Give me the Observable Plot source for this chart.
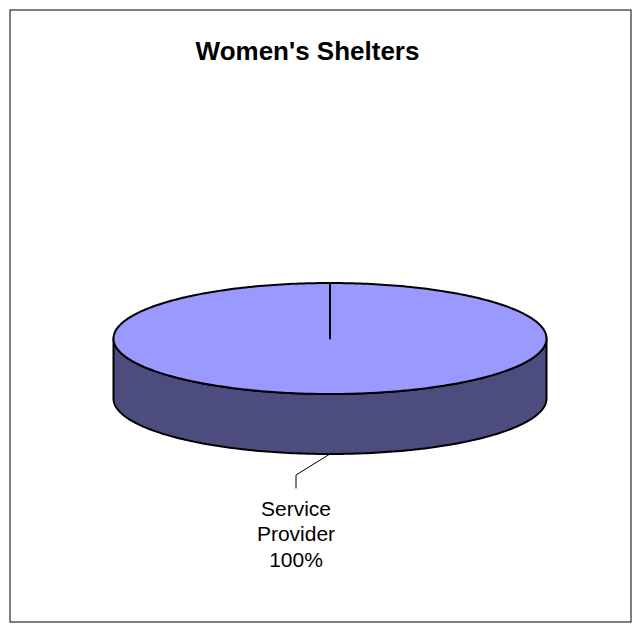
<!DOCTYPE html>
<html>
<head>
<meta charset="utf-8">
<script src="https://cdn.jsdelivr.net/npm/d3@7"></script>
<script src="https://cdn.jsdelivr.net/npm/@observablehq/plot@0.6"></script>
<style>
  html, body { margin: 0; padding: 0; background: white; overflow: hidden; }
</style>
</head>
<body>
<div id="chart"></div>
<script>
// ---- data ----
const title = "Women's Shelters";
const categories = ["Service Provider"];
const values = [100];
const topColors = ["#9999ff"];
const sideColors = ["#4c4c7f"];

// ---- layout ----
const W = 639, H = 629;
const cx = 329.5, cy = 338, rx = 216.5, ry = 55.5, depth = 60;
const font = "Liberation Sans, Arial, Helvetica, sans-serif";

const total = d3.sum(values);
const slices = d3.pie().sort(null).startAngle(0).endAngle(2 * Math.PI)(values);
const pt = (a, dz = 0) => ({x: cx + rx * Math.sin(a), y: cy - ry * Math.cos(a) + dz});
const arc = (a0, a1, dz = 0) => {
  const n = Math.max(2, Math.ceil(Math.abs(a1 - a0) / (Math.PI / 180)));
  return d3.range(n + 1).map(i => pt(a0 + (a1 - a0) * i / n, dz));
};

const sideRows = [];
const topRows = [];
const leaderRows = [];
const labelRows = [];
slices.forEach((s, i) => {
  const lo = Math.max(s.startAngle, Math.PI / 2);
  const hi = Math.min(s.endAngle, 3 * Math.PI / 2);
  if (lo < hi) {
    const poly = [...arc(lo, hi, 0), ...arc(hi, lo, depth)];
    poly.push(poly[0]);
    poly.forEach(p => sideRows.push({id: i, ...p, color: sideColors[i]}));
  }
  const c = {x: cx, y: cy};
  [c, ...arc(s.startAngle, s.endAngle, 0), c].forEach(p => topRows.push({id: i, ...p, color: topColors[i]}));
  const mid = (s.startAngle + s.endAngle) / 2;
  const a = pt(mid, depth);
  const b = {x: a.x - 34, y: a.y + 21};
  const e = {x: b.x, y: b.y + 13};
  [a, b, e].forEach(p => leaderRows.push({id: i, ...p}));
  labelRows.push({
    x: e.x, y: e.y + 45,
    text: categories[i].replace(" ", "\n") + "\n" + Math.round(values[i] / total * 100) + "%"
  });
});

const chart = Plot.plot({
  width: W, height: H,
  margin: 0,
  x: {type: "identity", axis: null},
  y: {type: "identity", axis: null},
  style: {background: "white"},
  marks: [
    Plot.frame({stroke: "black", strokeWidth: 1, insetLeft: 9.5, insetRight: 8.5, insetTop: 9.5, insetBottom: 7.5}),
    Plot.line(sideRows, {x: "x", y: "y", z: "id", fill: "color", stroke: "black", strokeWidth: 2, strokeLinejoin: "round"}),
    Plot.line(topRows, {x: "x", y: "y", z: "id", fill: "color", stroke: "black", strokeWidth: 2, strokeLinejoin: "round"}),
    Plot.line(leaderRows, {x: "x", y: "y", z: "id", stroke: "black", strokeWidth: 1}),
    Plot.text(labelRows, {x: "x", y: "y", text: "text", fontSize: 21, lineHeight: 1.22, lineAnchor: "middle", fontFamily: font, fill: "black"}),
    Plot.text([title], {x: () => 307, y: () => 51, text: d => d, fontSize: 26, fontWeight: "bold", fontFamily: font, fill: "black", lineAnchor: "middle"})
  ]
});
document.getElementById("chart").appendChild(chart);
</script>
</body>
</html>
